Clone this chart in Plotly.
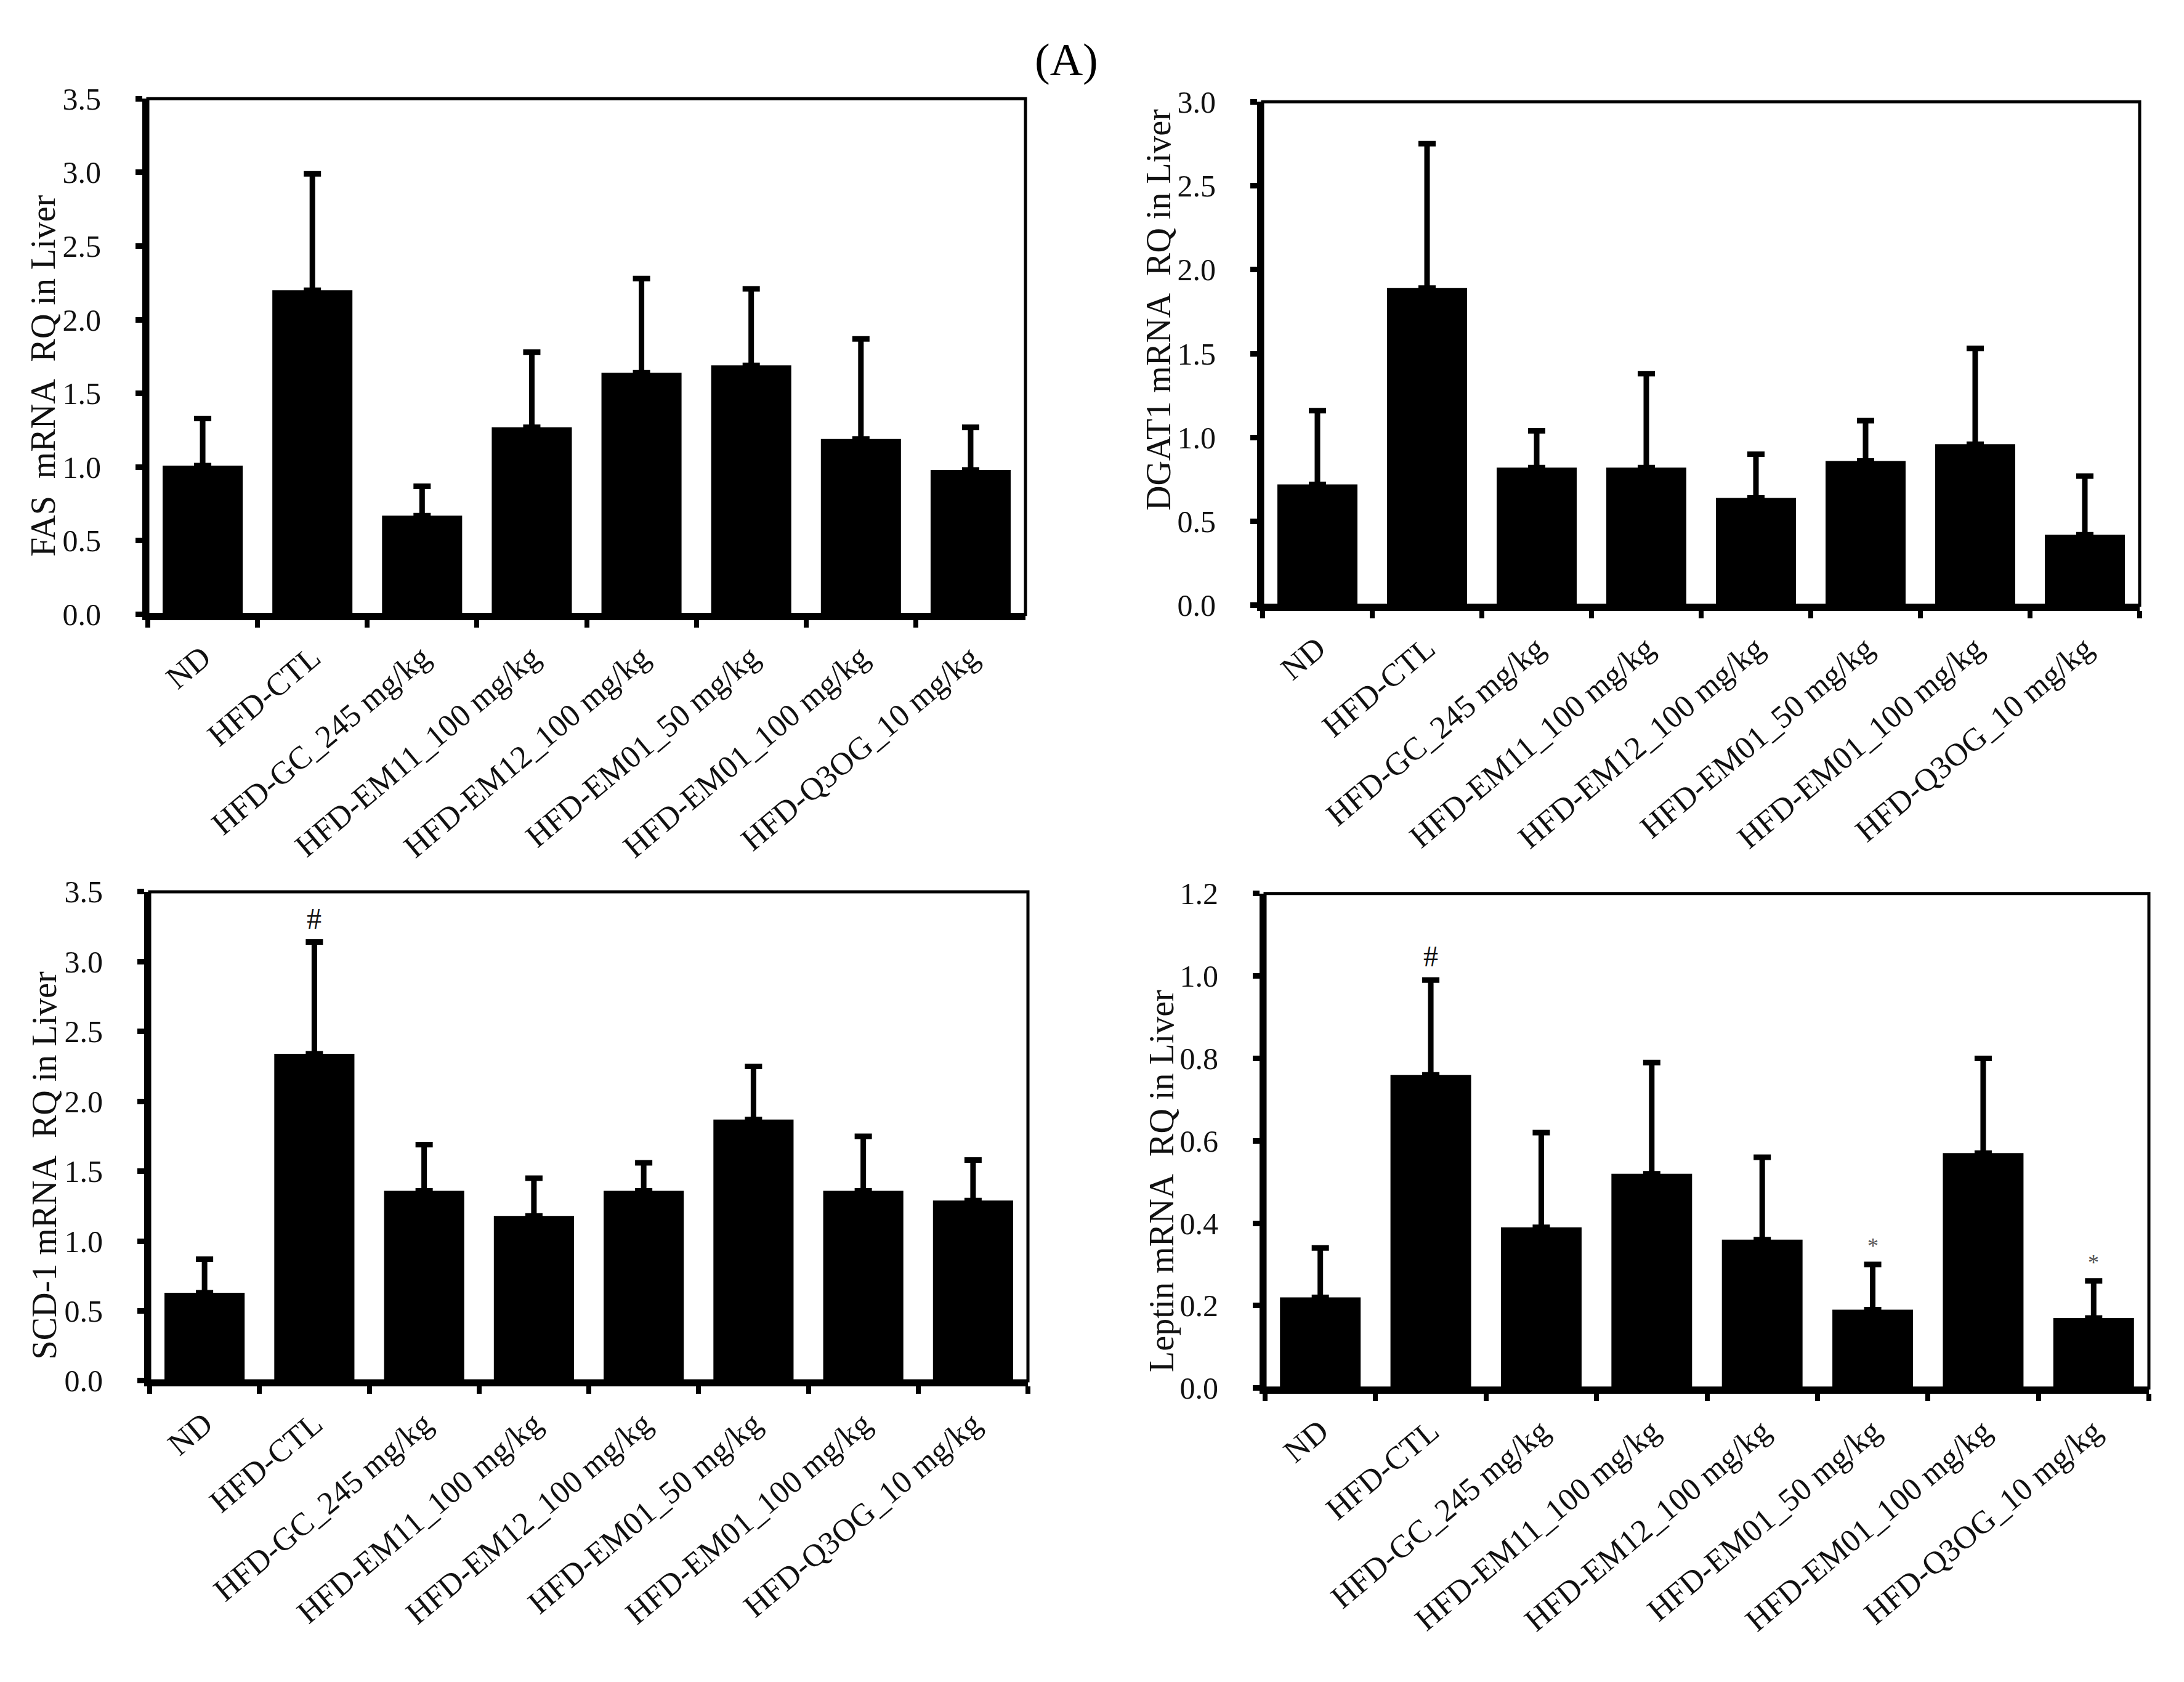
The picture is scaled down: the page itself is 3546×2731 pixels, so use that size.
import plotly.graph_objects as go

# group labels shared by all four panels
groups = ["ND", "HFD-CTL", "HFD-GC_245 mg/kg", "HFD-EM11_100 mg/kg",
          "HFD-EM12_100 mg/kg", "HFD-EM01_50 mg/kg", "HFD-EM01_100 mg/kg",
          "HFD-Q3OG_10 mg/kg"]

# values (mean, upper error)
fas_mean = [1.01, 2.20, 0.67, 1.27, 1.64, 1.69, 1.19, 0.98]
fas_sd = [0.32, 0.79, 0.20, 0.51, 0.64, 0.52, 0.68, 0.29]

dgat1_mean = [0.72, 1.89, 0.82, 0.82, 0.64, 0.86, 0.96, 0.42]
dgat1_sd = [0.44, 0.86, 0.22, 0.56, 0.26, 0.24, 0.57, 0.35]

scd1_mean = [0.63, 2.34, 1.36, 1.18, 1.36, 1.87, 1.36, 1.29]
scd1_sd = [0.24, 0.80, 0.33, 0.27, 0.20, 0.38, 0.39, 0.29]

leptin_mean = [0.22, 0.76, 0.39, 0.52, 0.36, 0.19, 0.57, 0.17]
leptin_sd = [0.12, 0.23, 0.23, 0.27, 0.20, 0.11, 0.23, 0.09]

# significance marks
fas_marks = [""] * 8
dgat1_marks = [""] * 8
scd1_marks = ["", "#", "", "", "", "", "", ""]
leptin_marks = ["", "#", "", "", "", "*", "", "*"]

FONT = "Liberation Serif, Times New Roman, serif"
W, H = 3546, 2731

panels = [
    dict(mean=fas_mean, sd=fas_sd, marks=fas_marks, ymax=3.5, dtick=0.5,
         title="FAS\u00a0 mRNA\u00a0 RQ in Liver",
         xdom=(232, 1657), ydom=(127, 982), tx=62, ty=587),
    dict(mean=dgat1_mean, sd=dgat1_sd, marks=dgat1_marks, ymax=3.0, dtick=0.5,
         title="DGAT1 mRNA\u00a0 RQ in Liver",
         xdom=(2042, 3466), ydom=(132, 967), tx=1873, ty=477),
    dict(mean=scd1_mean, sd=scd1_sd, marks=scd1_marks, ymax=3.5, dtick=0.5,
         title="SCD-1 mRNA\u00a0 RQ in Liver",
         xdom=(235, 1661), ydom=(1442, 2253), tx=64, ty=1896),
    dict(mean=leptin_mean, sd=leptin_sd, marks=leptin_marks, ymax=1.2, dtick=0.2,
         title="Leptin mRNA\u00a0 RQ in Liver",
         xdom=(2046, 3481), ydom=(1445, 2265), tx=1878, ty=1922),
]

fig = go.Figure()
annotations = []
shapes = []

for i, p in enumerate(panels):
    n = "" if i == 0 else str(i + 1)
    xa, ya = "x" + n, "y" + n

    fig.add_trace(go.Bar(
        x=groups, y=p["mean"], xaxis=xa, yaxis=ya,
        marker=dict(color="black", line=dict(width=0)),
        error_y=dict(type="data", array=p["sd"], arrayminus=[0] * 8,
                     symmetric=False, color="black", thickness=9, width=14),
        showlegend=False,
    ))

    fig.update_layout(**{
        "xaxis" + n: dict(
            domain=[p["xdom"][0] / W, p["xdom"][1] / W],
            anchor=ya, type="category", tickangle=-40,
            tickson="boundaries", ticks="outside", ticklen=12, tickwidth=8,
            tickcolor="black", showline=True, linewidth=9, linecolor="black",
            showgrid=False, ticklabelstandoff=10,
            tickfont=dict(family=FONT, size=52, color="#111111"),
        ),
        "yaxis" + n: dict(
            domain=[1 - p["ydom"][1] / H, 1 - p["ydom"][0] / H],
            anchor=xa, range=[0, p["ymax"]], dtick=p["dtick"], tickformat=".1f",
            ticks="outside", ticklen=11, tickwidth=9, tickcolor="black",
            showline=True, linewidth=9, linecolor="black", showgrid=False,
            zeroline=False, ticklabelstandoff=46,
            tickfont=dict(family=FONT, size=50, color="#111111"),
        ),
    })

    # thin frame on the top and right sides
    shapes.append(dict(type="rect", xref=xa + " domain", yref=ya + " domain",
                       x0=0, x1=1, y0=0, y1=1, line=dict(color="black", width=5)))

    annotations.append(dict(
        x=p["tx"] / W, y=1 - p["ty"] / H, xref="paper", yref="paper",
        xanchor="center", yanchor="middle",
        text=p["title"], textangle=-90, showarrow=False,
        font=dict(family=FONT, size=56, color="#111111"),
    ))

    for g, m, s, mk in zip(groups, p["mean"], p["sd"], p["marks"]):
        if mk:
            star = mk == "*"
            annotations.append(dict(
                x=g, y=m + s, xref=xa, yref=ya, text=mk, showarrow=False,
                yanchor="bottom", yshift=8 if star else 10,
                font=dict(family=FONT, size=36 if star else 48,
                          color="#555555" if star else "#111111"),
            ))

annotations.append(dict(
    x=1723 / W, y=1 - 62 / H, xref="paper", yref="paper", text="(A)",
    xanchor="center", yanchor="middle",
    showarrow=False, font=dict(family=FONT, size=74, color="black"),
))

fig.update_layout(
    width=W, height=H,
    margin=dict(l=0, r=0, t=0, b=0),
    paper_bgcolor="white", plot_bgcolor="white",
    bargap=0.27, showlegend=False,
    annotations=annotations, shapes=shapes,
)

fig.write_html("out.html")
